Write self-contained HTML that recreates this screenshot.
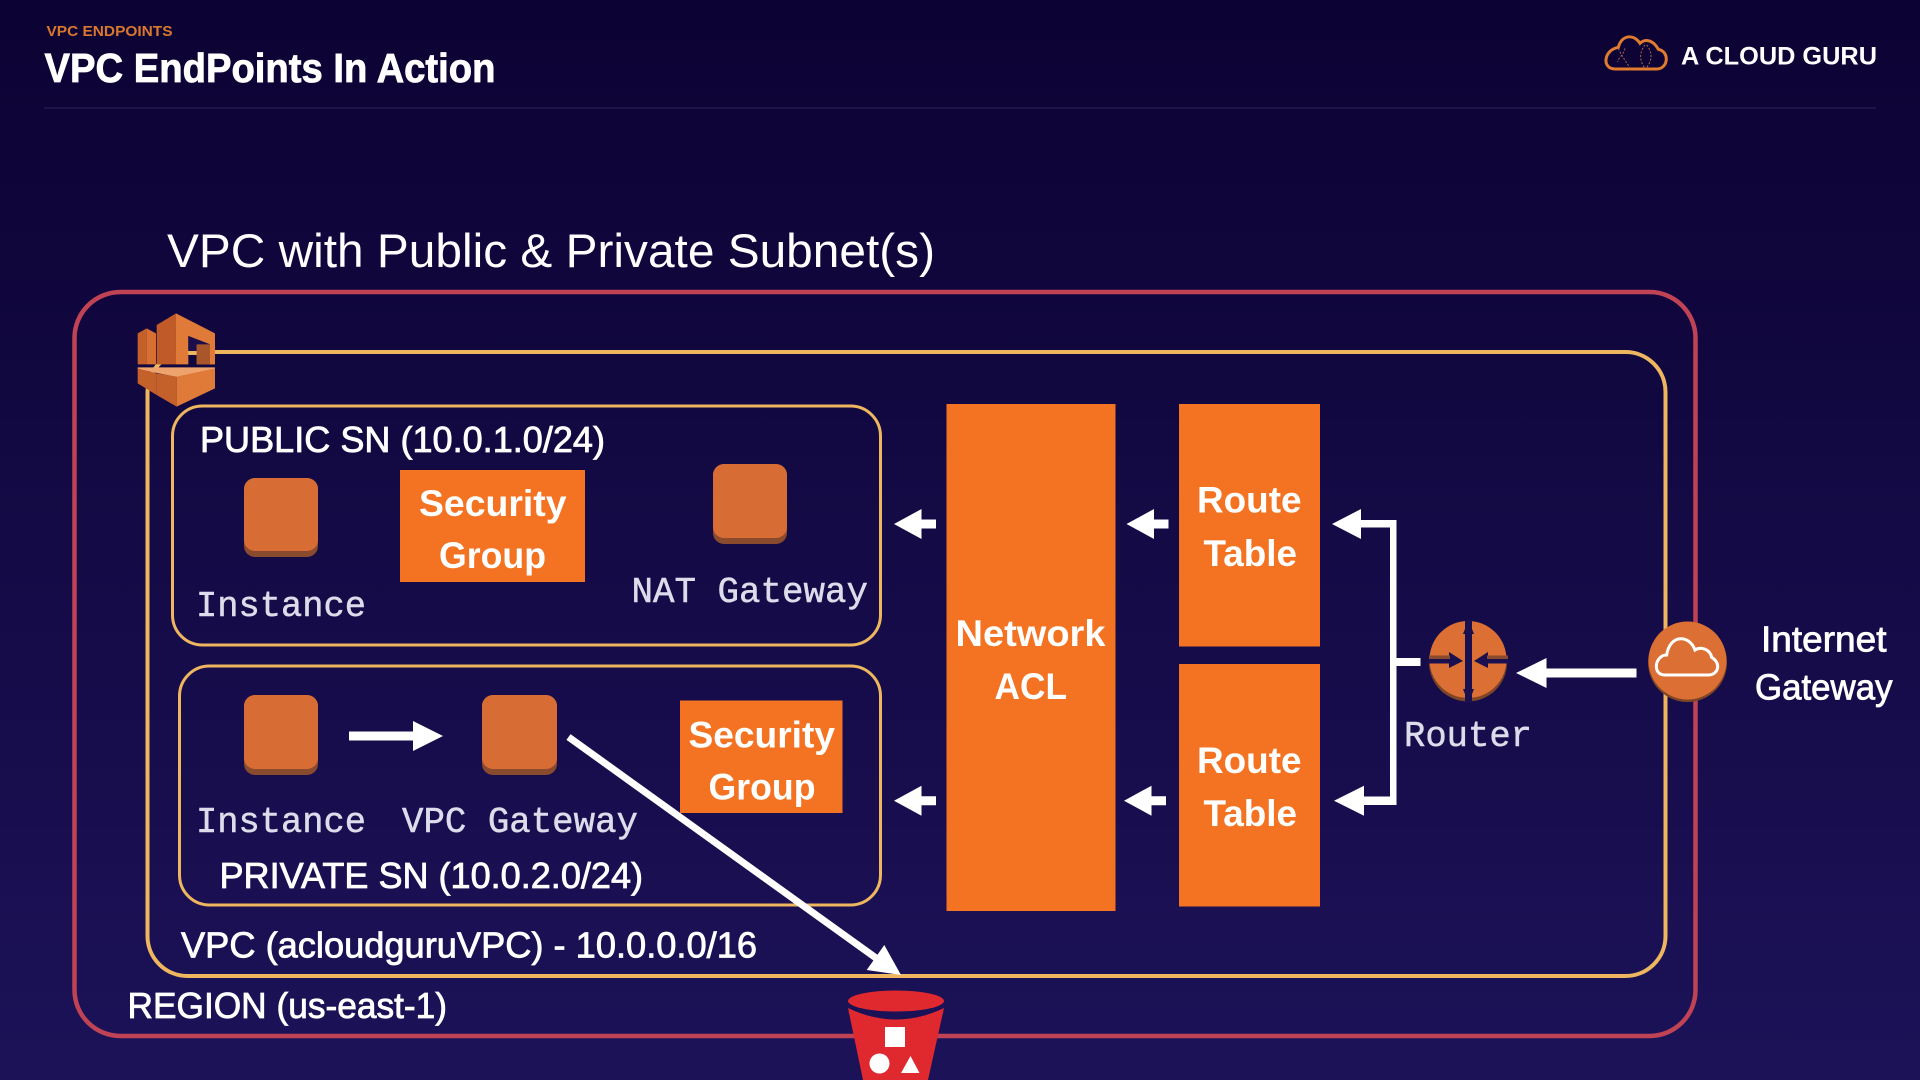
<!DOCTYPE html>
<html><head><meta charset="utf-8"><title>VPC EndPoints In Action</title>
<style>
html,body{margin:0;padding:0;width:1920px;height:1080px;overflow:hidden;background:#140b42}
svg{display:block}
text{font-family:"Liberation Sans",sans-serif;fill:#fff}
.m{stroke:#fff;stroke-width:.8px;font-size:36px}
.b{font-weight:700;font-size:37px}
.c{font-family:"Liberation Mono",monospace;font-size:36px;fill:#dddcea;stroke:#dddcea;stroke-width:.5px}
</style></head><body>
<svg width="1920" height="1080" viewBox="0 0 1920 1080" xmlns="http://www.w3.org/2000/svg">
<defs>
<linearGradient id="bg" x1="0" y1="0" x2="0" y2="1"><stop offset="0" stop-color="#0c0233"/><stop offset="1" stop-color="#1c1258"/></linearGradient>
</defs>
<rect width="1920" height="1080" fill="url(#bg)"/>

<!-- header -->
<text x="46.5" y="36" font-size="14.5" font-weight="700" style="fill:#d9772f" textLength="126" lengthAdjust="spacingAndGlyphs">VPC ENDPOINTS</text>
<text x="44.5" y="82" font-size="41" font-weight="700" style="stroke:#fff;stroke-width:.8px" textLength="451" lengthAdjust="spacingAndGlyphs">VPC EndPoints In Action</text>
<rect x="44" y="107" width="1832" height="2" fill="#1e1447"/>
<g transform="translate(1590,20) scale(.3333)" fill="none">
<path d="M75,147H200C235,147 240,95 205,88C190,60 165,55 150,70C130,40 95,45 85,82C40,90 35,147 75,147Z" stroke="#e07b2f" stroke-width="9"/>
<path d="M85,85C95,110 110,125 120,145M105,85C100,105 85,115 82,125M165,75C145,100 150,125 165,145M170,75C190,100 185,125 168,145" stroke="#a8684f" stroke-width="3" stroke-dasharray="6 5"/>
</g>
<text x="1681" y="64.5" font-size="25" font-weight="700" textLength="196" lengthAdjust="spacingAndGlyphs">A CLOUD GURU</text>

<text x="167" y="267" font-size="47" textLength="768" lengthAdjust="spacingAndGlyphs">VPC with Public &amp; Private Subnet(s)</text>

<!-- containers -->
<rect x="74.5" y="292" width="1621" height="744" rx="46" ry="46" fill="none" stroke="#bf4355" stroke-width="4.5"/>
<rect x="147.5" y="352" width="1518" height="624" rx="40" ry="40" fill="none" stroke="#edb65f" stroke-width="4"/>
<rect x="172.5" y="406" width="708" height="239" rx="30" ry="30" fill="none" stroke="#edb65f" stroke-width="3"/>
<rect x="179.5" y="666" width="701" height="239" rx="30" ry="30" fill="none" stroke="#edb65f" stroke-width="3"/>

<!-- orange boxes -->
<g fill="#f47322">
<rect x="946.5" y="404" width="169" height="507"/>
<rect x="1179" y="404" width="141" height="242.5"/>
<rect x="1179" y="664" width="141" height="242.5"/>
<rect x="400" y="470" width="185" height="112"/>
<rect x="680" y="700.5" width="162.5" height="112.5"/>
</g>

<!-- instances -->
<g>
<rect x="244" y="478" width="74" height="79" rx="11" fill="#8a4a2d"/><rect x="244" y="478" width="74" height="73" rx="11" fill="#d86c35"/>
<rect x="713" y="464" width="74" height="80" rx="11" fill="#8a4a2d"/><rect x="713" y="464" width="74" height="74" rx="11" fill="#d86c35"/>
<rect x="244" y="695" width="74" height="80" rx="11" fill="#8a4a2d"/><rect x="244" y="695" width="74" height="74" rx="11" fill="#d86c35"/>
<rect x="482" y="695" width="75" height="80" rx="11" fill="#8a4a2d"/><rect x="482" y="695" width="75" height="74" rx="11" fill="#d86c35"/>
</g>

<!-- AZ icon -->
<g transform="translate(130,305) scale(.3333)">
<polygon points="23,85 50,70 50,178 23,178" fill="#c4602a"/>
<polygon points="50,70 78,85 78,178 50,178" fill="#d86f32"/>
<polygon points="80,60 138,25 138,178 80,178" fill="#c05a28"/>
<polygon points="138,25 255,85 255,178 200,178 200,118 240,118 175,93 175,178 138,178" fill="#e07a38"/>
<polygon points="175,93 240,118 200,118 200,140 175,140" fill="#1a0f4a"/>
<rect x="175" y="138" width="25" height="12" fill="#edb65f"/>
<polygon points="200,118 240,118 240,178 200,178" fill="#a8562a"/>
<polygon points="240,118 255,112 255,178 240,178" fill="#e07a38"/>
<polygon points="23,187 255,187 255,192 140,216 23,192" fill="#eea36d"/>
<polygon points="23,190 80,205 80,270 23,235" fill="#c4602a"/>
<polygon points="80,205 140,215 140,305 80,270" fill="#c4602a"/>
<polygon points="140,215 255,190 255,250 140,305" fill="#e07a38"/>
</g>

<!-- small arrows -->
<g fill="#fff">
<polygon points="894,524 921.5,509 921.5,519.5 936,519.5 936,528.5 921.5,528.5 921.5,539"/>
<polygon points="894,800.7 921.5,785.7 921.5,796.2 936,796.2 936,805.2 921.5,805.2 921.5,815.7"/>
<polygon points="1126.5,524 1154,509 1154,519.5 1168.5,519.5 1168.5,528.5 1154,528.5 1154,539"/>
<polygon points="1124,800.7 1151.5,785.7 1151.5,796.2 1166,796.2 1166,805.2 1151.5,805.2 1151.5,815.7"/>
<polygon points="1332,524 1361,509 1361,520 1396.5,520 1396.5,805 1364,805 1364,815.7 1334,800.7 1364,785.7 1364,796.5 1390,796.5 1390,666 1390,527.5 1361,527.5 1361,539"/>
<rect x="1390" y="658" width="30.5" height="8"/>
<polygon points="1516,673 1546.5,658 1546.5,668.5 1636.5,668.5 1636.5,677.5 1546.5,677.5 1546.5,688"/>
<polygon points="443,736 413,721 413,731.5 349,731.5 349,740.5 413,740.5 413,751"/>
<line x1="568.5" y1="737" x2="876" y2="958" stroke="#fff" stroke-width="7"/>
<polygon points="901,975 884.3,945 866.7,970"/>
</g>

<!-- router -->
<circle cx="1468" cy="662.5" r="39" fill="#7e4527"/>
<circle cx="1468" cy="659.5" r="38.5" fill="#dc6f33"/>
<g fill="#1a1050">
<rect x="1465" y="620" width="7" height="83"/>
<polygon points="1468.5,620 1474,634 1463,634"/>
<polygon points="1468.5,703 1474,689 1463,689"/>
<rect x="1428" y="659" width="24" height="4.5"/>
<polygon points="1449,652 1463,661 1449,668"/>
<rect x="1485" y="659" width="24" height="4.5"/>
<polygon points="1488,652 1474,661 1488,668"/>
</g>
<g fill="#8a4a2d">
<rect x="1429" y="655.5" width="21" height="3.5"/><rect x="1487" y="655.5" width="21" height="3.5"/>
</g>
<!-- IGW -->
<circle cx="1687.5" cy="662.5" r="39.5" fill="#7e4527"/>
<circle cx="1687.5" cy="660.5" r="39" fill="#dc6f33"/>
<path transform="translate(1400,600) scale(.3333)" d="M795,225H925C955,225 965,190 935,172C930,145 900,140 885,150C870,105 810,100 800,165C765,165 755,225 795,225Z" fill="none" stroke="#fff" stroke-width="9"/>

<!-- S3 bucket -->
<g>
<path d="M848,1008 Q896,1031 944,1008 L928,1080 L863,1080 Z" fill="#e0282f"/>
<ellipse cx="896" cy="1001" rx="48" ry="10.5" fill="#e0282f"/>
<rect x="885" y="1027" width="20" height="20" fill="#fff"/>
<circle cx="879.5" cy="1063.5" r="10" fill="#fff"/>
<polygon points="910.5,1056 901,1073 919.5,1073" fill="#fff"/>
</g>

<!-- labels -->
<text class="m" x="200" y="452" textLength="405" lengthAdjust="spacingAndGlyphs">PUBLIC SN (10.0.1.0/24)</text>
<text class="m" x="219.5" y="888" textLength="423.5" lengthAdjust="spacingAndGlyphs">PRIVATE SN (10.0.2.0/24)</text>
<text class="m" x="181" y="957.5" textLength="576" lengthAdjust="spacingAndGlyphs">VPC (acloudguruVPC) - 10.0.0.0/16</text>
<text class="m" x="127.5" y="1018" textLength="319.5" lengthAdjust="spacingAndGlyphs">REGION (us-east-1)</text>

<text class="b" x="419" y="516" textLength="147.5" lengthAdjust="spacingAndGlyphs">Security</text>
<text class="b" x="439" y="568" textLength="107" lengthAdjust="spacingAndGlyphs">Group</text>
<text class="b" x="688.5" y="747.5" textLength="146.5" lengthAdjust="spacingAndGlyphs">Security</text>
<text class="b" x="708.5" y="799.5" textLength="107" lengthAdjust="spacingAndGlyphs">Group</text>
<text class="b" x="955.5" y="646" textLength="150" lengthAdjust="spacingAndGlyphs">Network</text>
<text class="b" x="994.5" y="699" textLength="72.5" lengthAdjust="spacingAndGlyphs">ACL</text>
<text class="b" x="1197" y="512.5" textLength="104.5" lengthAdjust="spacingAndGlyphs">Route</text>
<text class="b" x="1203.5" y="566" textLength="93.5" lengthAdjust="spacingAndGlyphs">Table</text>
<text class="b" x="1197" y="773" textLength="104.5" lengthAdjust="spacingAndGlyphs">Route</text>
<text class="b" x="1203.5" y="826" textLength="93.5" lengthAdjust="spacingAndGlyphs">Table</text>
<text class="m" x="1761" y="651.5" textLength="125.5" lengthAdjust="spacingAndGlyphs">Internet</text>
<text class="m" x="1755" y="699.5" textLength="137.5" lengthAdjust="spacingAndGlyphs">Gateway</text>

<text class="c" x="196" y="616" textLength="170" lengthAdjust="spacingAndGlyphs">Instance</text>
<text class="c" x="631.5" y="602" textLength="236.5" lengthAdjust="spacingAndGlyphs">NAT Gateway</text>
<text class="c" x="196" y="832" textLength="170" lengthAdjust="spacingAndGlyphs">Instance</text>
<text class="c" x="402" y="832" textLength="236" lengthAdjust="spacingAndGlyphs">VPC Gateway</text>
<text class="c" x="1404" y="746" textLength="128" lengthAdjust="spacingAndGlyphs">Router</text>
</svg>
</body></html>
